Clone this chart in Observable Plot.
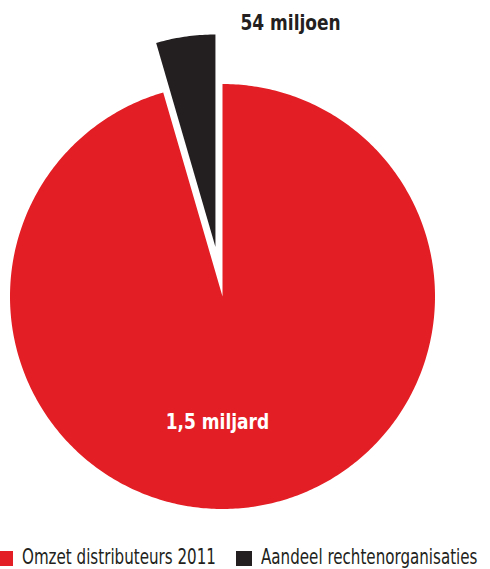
<!DOCTYPE html>
<html>
<head>
<meta charset="utf-8">
<script src="https://cdn.jsdelivr.net/npm/d3@7"></script>
<script src="https://cdn.jsdelivr.net/npm/@observablehq/plot@0.6"></script>
<style>
  html, body { margin: 0; padding: 0; background: #fff; overflow: hidden; }
  body { position: relative; width: 490px; height: 569px; }
  #legend { position: absolute; top: 547px; left: -3px; display: flex; align-items: center; white-space: nowrap;
    font-family: "DejaVu Sans Condensed", "Liberation Sans Narrow", sans-serif; font-size: 21px; line-height: 21px; color: #231f20; }
  .item { display: flex; align-items: center; margin-right: 20px; }
  .sw { width: 16px; height: 15px; margin-right: 9px; flex: none; margin-top: 2px; }
  .tw { display: inline-block; overflow: visible; }
  .tx { display: inline-block; transform-origin: 0 50%; }
</style>
</head>
<body>
<div id="chart"></div>
<div id="legend"></div>
<script>
// ---- data ----
const categories = ["Omzet distributeurs 2011", "Aandeel rechtenorganisaties"];
const shares = [95.5, 4.5];               // share of the pie as drawn (%)
const valueLabels = ["1,5 miljard", "54 miljoen"];
const colors = ["#e31e24", "#231f20"];
const exploded = [false, true];

// ---- layout ----
const W = 490, H = 546;
const cx = 222, cy = 296, R = 212.5;
const explodePx = 50;
const condense = 0.86, legendCondense = 0.8;
const labelFont = "DejaVu Sans Condensed, Liberation Sans Narrow, sans-serif";

const pie = d3.pie().sort(null).value(d => d.share);
const table = categories.map((name, i) => ({name, share: shares[i], label: valueLabels[i], exploded: exploded[i]}));
const arcs = pie(table);

// slice outlines (unit radius, y up) built from the pie angles
const points = [];
const outerLabels = [], innerLabels = [];
arcs.forEach(a => {
  const mid = (a.startAngle + a.endAngle) / 2;
  const off = a.data.exploded ? explodePx / R : 0;
  const ox = off * Math.sin(mid), oy = off * Math.cos(mid);
  points.push({name: a.data.name, x: ox, y: oy});
  const n = Math.max(8, Math.ceil((a.endAngle - a.startAngle) * 80));
  for (let k = 0; k <= n; k++) {
    const t = a.startAngle + (a.endAngle - a.startAngle) * k / n;
    points.push({name: a.data.name, x: ox + Math.sin(t), y: oy + Math.cos(t)});
  }
  points.push({name: a.data.name, x: ox, y: oy});
  if (a.data.exploded) {
    outerLabels.push({text: a.data.label, x: ox + Math.sin(a.endAngle), y: oy + Math.cos(a.endAngle)});
  } else {
    innerLabels.push({text: a.data.label, x: 0.6 * Math.sin(mid), y: 0.6 * Math.cos(mid)});
  }
});

const chart = Plot.plot({
  width: W, height: H,
  margin: 0,
  x: {domain: [-cx / R, (W - cx) / R], range: [0, W], axis: null},
  y: {domain: [(cy - H) / R, cy / R], range: [H, 0], axis: null},
  color: {domain: categories, range: colors},
  style: {background: "#fff"},
  marks: [
    Plot.line(points, {x: "x", y: "y", z: "name", fill: "name", stroke: null, curve: "linear"}),
    Plot.text(outerLabels, {x: "x", y: "y", text: "text", fill: "#231f20", textAnchor: "start",
      dx: 25, dy: -12, fontSize: 22, fontWeight: "bold", fontFamily: labelFont}),
    Plot.text(innerLabels, {x: "x", y: "y", text: "text", fill: "#ffffff", textAnchor: "middle",
      dx: -23, dy: -1, fontSize: 22, fontWeight: "bold", fontFamily: labelFont})
  ]
});
document.getElementById("chart").appendChild(chart);
// condense the bold value labels horizontally
d3.select(chart).selectAll("text").each(function () {
  const len = this.getComputedTextLength();
  if (len > 0) {
    this.setAttribute("textLength", (len * condense).toFixed(1));
    this.setAttribute("lengthAdjust", "spacingAndGlyphs");
  }
});

const legend = document.getElementById("legend");
categories.forEach((c, i) => {
  const item = document.createElement("div");
  item.className = "item";
  const sw = document.createElement("span");
  sw.className = "sw";
  sw.style.background = colors[i];
  const tw = document.createElement("span");
  tw.className = "tw";
  const tx = document.createElement("span");
  tx.className = "tx";
  tx.textContent = c;
  tw.appendChild(tx);
  item.appendChild(sw); item.appendChild(tw);
  legend.appendChild(item);
  const w = tx.getBoundingClientRect().width;
  tx.style.transform = `scaleX(${legendCondense})`;
  tw.style.width = (w * legendCondense) + "px";
});
</script>
</body>
</html>
